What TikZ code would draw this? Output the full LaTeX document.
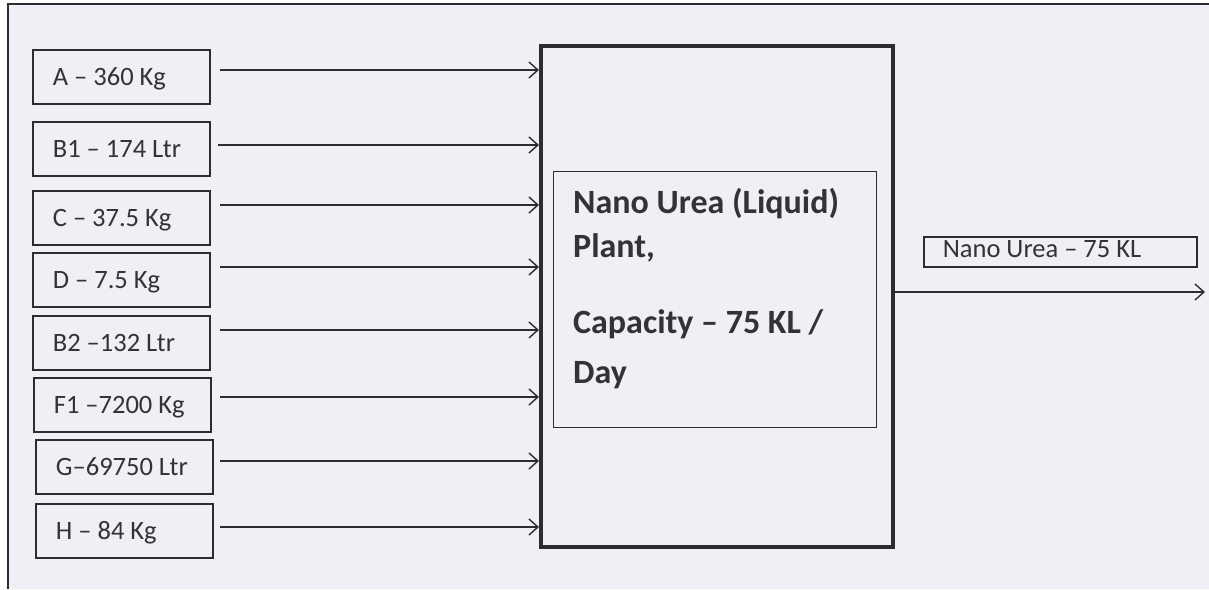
\documentclass[tikz,border=0pt]{standalone}
\usepackage{fontspec}
\setmainfont{Carlito}
\usetikzlibrary{arrows.meta}
\definecolor{bg}{RGB}{241,238,246}
\definecolor{ink}{RGB}{45,45,48}
\definecolor{txt}{RGB}{50,50,56}
\newcommand\tightsp{\spaceskip=0pt\xspaceskip=0pt\relax}
\begin{document}
\begin{tikzpicture}[x=1pt,y=-1pt,
  inbox/.style={draw=ink, line width=1.8pt, minimum width=177pt, minimum height=54pt,
    text width=137pt, inner xsep=20pt, inner ysep=0pt, align=left,
    text height=17pt, text depth=0pt, font=\fontsize{26.5}{30}\selectfont, text=txt,
    anchor=north west},
  flow/.style={draw=ink, line width=1.6pt,
    -{Straight Barb[length=9pt,width=16pt,line width=1.4pt]}},
  plantline/.style={font=\bfseries\fontsize{34}{38}\selectfont, text=txt,
    anchor=base west, inner sep=0pt}]
% page and scan frame
\useasboundingbox (0,0) rectangle (1209,589);
\fill[white] (0,0) rectangle (1209,589);
\fill[bg] (8,4) rectangle (1209,589);
\draw[ink, line width=2pt] (8,589) -- (8,4) -- (1209,4);

% main plant box
\node[draw=ink, line width=3.5pt, minimum width=352pt, minimum height=501pt,
  inner sep=0pt, anchor=north west] (plant) at (539,44) {};
\node[draw=ink, line width=1.4pt, minimum width=323pt, minimum height=256pt,
  inner sep=0pt, anchor=north west] (inner) at (553,171) {};
\node[plantline] (t1) at (573,213) {Nano Urea (Liquid)};
\node[plantline] (t2) at (573,257) {Plant,};
\node[plantline] (t3) at (573,333) {Capacity – 75 KL /};
\node[plantline] (t4) at (573,383) {Day};

% inputs
\node[inbox] (a)  at (32,49)  {\tightsp A – 360 Kg};
\node[inbox] (b1) at (32,121) {\tightsp B1 – 174 Ltr};
\node[inbox] (c)  at (32,190) {\tightsp C – 37.5 Kg};
\node[inbox] (d)  at (32,252) {\tightsp D – 7.5 Kg};
\node[inbox] (b2) at (32,315) {\tightsp B2 –132 Ltr};
\node[inbox] (f1) at (33,377) {\tightsp F1 –7200 Kg};
\node[inbox] (g)  at (35,439) {\tightsp G–69750 Ltr};
\node[inbox] (h)  at (35,503) {\tightsp H – 84 Kg};

\coordinate (sa)  at (220,70);
\coordinate (sb1) at (218,145);
\coordinate (sc)  at (220,205);
\coordinate (sd)  at (220,267);
\coordinate (sb2) at (220,330);
\coordinate (sf1) at (220,397);
\coordinate (sg)  at (220,461);
\coordinate (sh)  at (220,527);
\foreach \s in {sa,sb1,sc,sd,sb2,sf1,sg,sh}
  \draw[flow] (\s) -- (\s -| plant.west);

% output
\node[draw=ink, line width=1.6pt, minimum width=273pt, minimum height=30pt,
  inner xsep=19pt, inner ysep=0pt, text width=235pt, align=left,
  text height=12pt, text depth=0pt, font=\fontsize{26.5}{28}\selectfont, text=txt,
  anchor=north west] (out) at (923,236) {\tightsp Nano Urea – 75 KL};
\coordinate (oe) at (1205,292);
\draw[flow] (oe -| plant.east) -- (oe);
\end{tikzpicture}
\end{document}
